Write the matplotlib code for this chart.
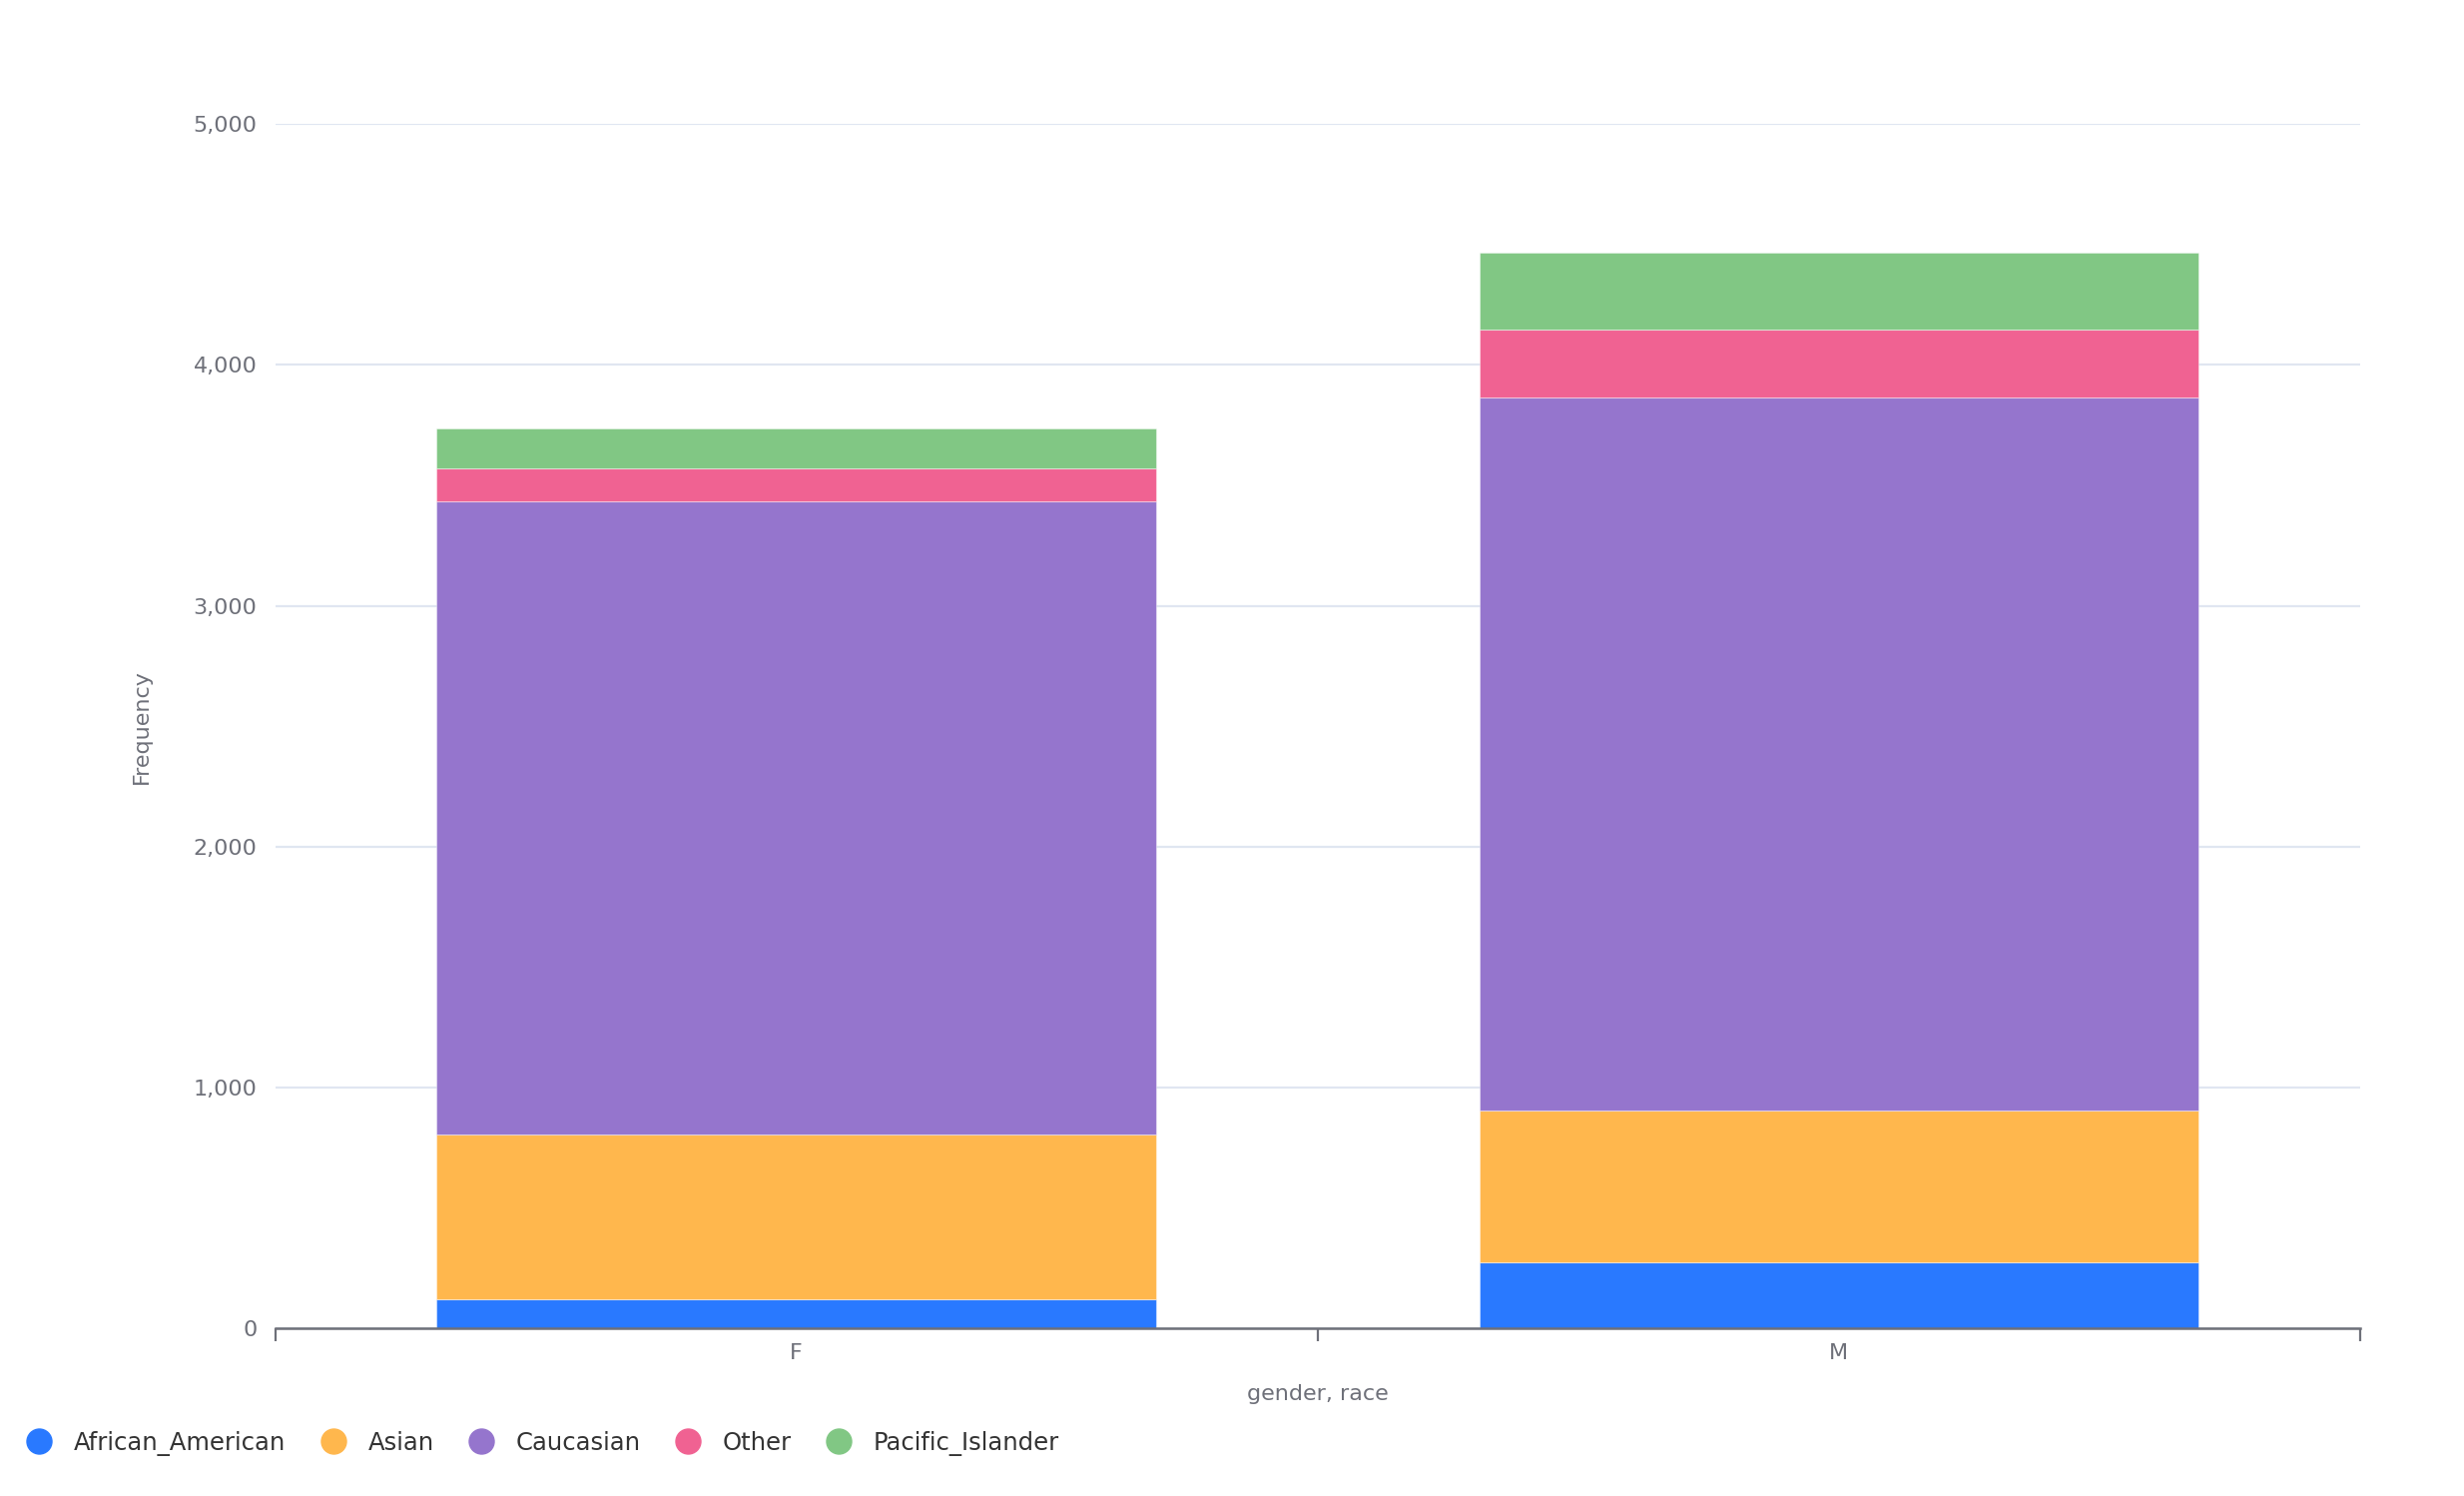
import matplotlib

matplotlib.use("Agg")
import matplotlib.pyplot as plt
from matplotlib.lines import Line2D
from matplotlib.ticker import FuncFormatter, FixedLocator

plt.rcParams["font.family"] = ["DejaVu Sans"]

genders = ["F", "M"]
races = ["African_American", "Asian", "Caucasian", "Other", "Pacific_Islander"]
counts = {
    "African_American": [120, 275],
    "Asian": [683, 630],
    "Caucasian": [2632, 2960],
    "Other": [136, 280],
    "Pacific_Islander": [167, 320],
}
colors = ["#2979FF", "#FFB74D", "#9575CD", "#F06292", "#81C784"]
y_ticks = [0, 1000, 2000, 3000, 4000, 5000]

text_color = "#6E7079"

fig = plt.figure(figsize=(24.68, 14.98), dpi=100)
ax = fig.add_axes([275.5 / 2468, 1 - 1330 / 1498, (2364 - 275.5) / 2468, (1330 - 124.3) / 1498])

x = list(range(len(genders)))
bottom = [0] * len(genders)
for race, col in zip(races, colors):
    vals = counts[race]
    ax.bar(x, vals, width=0.69, bottom=bottom, color=col, edgecolor="#ffffff66",
           linewidth=0.8, zorder=3)
    bottom = [b + v for b, v in zip(bottom, vals)]

ax.set_xlim(-0.5, len(genders) - 0.5)
ax.set_ylim(0, 5000)
ax.set_yticks(y_ticks)
ax.yaxis.set_major_formatter(FuncFormatter(lambda v, p: f"{int(v):,}"))
ax.grid(axis="y", color="#E0E6F1", linewidth=1.6, zorder=0)

# category labels at centres, boundary ticks below the axis
ax.set_xticks(x)
ax.set_xticklabels(genders)
ax.xaxis.set_minor_locator(FixedLocator([-0.5, 0.5, 1.5]))
ax.tick_params(axis="x", which="major", length=0, pad=11, labelsize=16, labelcolor=text_color)
ax.tick_params(axis="x", which="minor", length=9, width=1.6, color=text_color)
ax.tick_params(axis="y", length=0, pad=13, labelsize=16, labelcolor=text_color)

for s in ["top", "right", "left"]:
    ax.spines[s].set_visible(False)
ax.spines["bottom"].set_color(text_color)
ax.spines["bottom"].set_linewidth(1.8)
ax.spines["bottom"].set_zorder(4)

ax.set_xlabel("gender, race", fontsize=16, color=text_color, labelpad=15)
ax.set_ylabel("Frequency", fontsize=16, color=text_color)
ax.yaxis.set_label_coords(-0.059, 0.5)

handles = [Line2D([], [], linestyle="none", marker="o", markersize=18,
                  markerfacecolor=c, markeredgecolor=c) for c in colors]
fig.legend(handles, races, loc="center left", bbox_to_anchor=(0.008, 1 - 1445 / 1498),
           ncol=5, frameon=False, fontsize=17.5, labelcolor="#333333",
           handlelength=1.0, handletextpad=0.93, columnspacing=1.45,
           borderaxespad=0, borderpad=0.3)

fig.savefig("out.png", dpi=100)
